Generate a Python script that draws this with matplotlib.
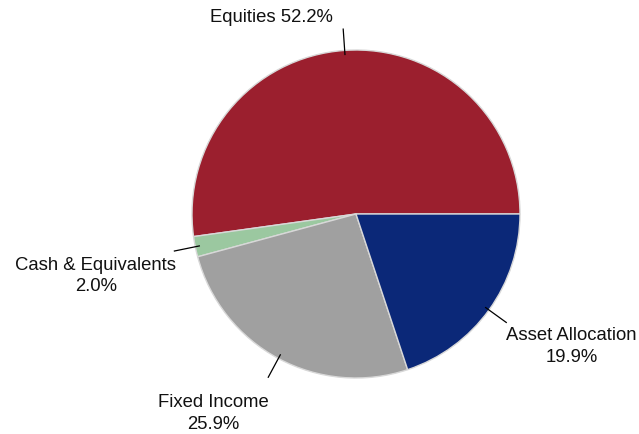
import numpy as np
import matplotlib.pyplot as plt

labels = ["Equities", "Cash & Equivalents", "Fixed Income", "Asset Allocation"]
shares = [52.2, 2.0, 25.9, 19.9]
colors = ["#9B1F2E", "#9BC8A0", "#A0A0A0", "#0B2878"]

plt.rcParams['font.family'] = ['Liberation Sans', 'DejaVu Sans']

W, H = 639, 435
fig = plt.figure(figsize=(W / 100, H / 100), dpi=100)
ax = fig.add_axes([0, 0, 1, 1])

cx, cy, r = 356, H - 215, 164
wedges, _ = ax.pie(shares, colors=colors, startangle=0, counterclock=True,
                   center=(cx, cy), radius=r, frame=False,
                   wedgeprops=dict(edgecolor="#D8D8D8", linewidth=1.0))
ax.set_xlim(0, W)
ax.set_ylim(0, H)
ax.set_aspect('equal')
ax.axis('off')

# text placement relative to the outer end of each leader line (pixels)
text_style = [
    dict(dx=-72, dy=4, ha='center', va='bottom', sep=' '),
    dict(dx=2, dy=-5, ha='right', va='top', sep='\n'),
    dict(dx=-55, dy=-16, ha='center', va='top', sep='\n'),
    dict(dx=0, dy=-4, ha='left', va='top', sep='\n'),
]

for w, lab, val, st in zip(wedges, labels, shares, text_style):
    ang = np.deg2rad((w.theta1 + w.theta2) / 2)
    x0, y0 = cx + 0.975 * r * np.cos(ang), cy + 0.975 * r * np.sin(ang)
    x1, y1 = cx + 1.13 * r * np.cos(ang), cy + 1.13 * r * np.sin(ang)
    ax.plot([x0, x1], [y0, y1], color='black', lw=0.9)
    ax.text(x1 + st['dx'], y1 + st['dy'], f"{lab}{st['sep']}{val:.1f}%",
            ha=st['ha'], va=st['va'], multialignment='center',
            fontsize=13.3, linespacing=1.33, color='#111111')

fig.savefig("out.png", dpi=100)
